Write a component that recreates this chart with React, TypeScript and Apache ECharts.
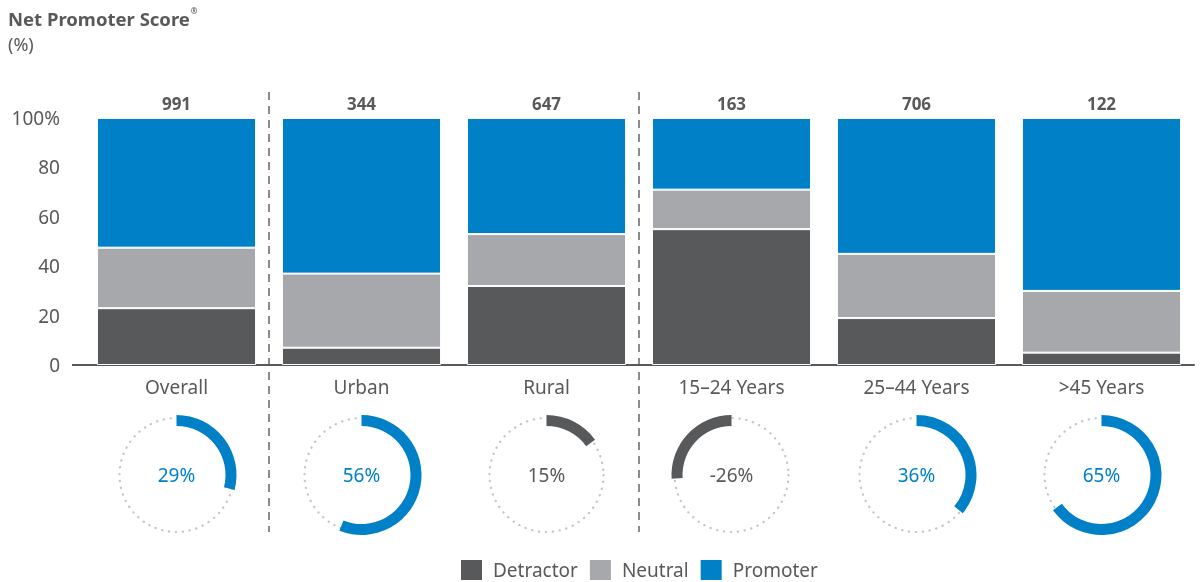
import React, { useEffect, useRef } from 'react';
import * as echarts from 'echarts';

const categories = ['Overall', 'Urban', 'Rural', '15–24 Years', '25–44 Years', '>45 Years'];
const detractor = [23, 7, 32, 55, 19, 5];
const neutral = [24.5, 30, 21, 16, 26, 25];
const promoter = [52.5, 63, 47, 29, 55, 70];
const totals = [991, 344, 647, 163, 706, 122];
const nps = [29, 56, 15, -26, 36, 65];
const separatorAfter = [0, 2];

const C_DET = '#58595b';
const C_NEU = '#a7a8ab';
const C_PRO = '#0080c6';
const TXT = '#58595b';
const FONT = '"Noto Sans", sans-serif';

const W = 1200;
const H = 582;
const GRID_LEFT = 84;
const GRID_RIGHT = 6;
const GRID_TOP = 118;
const GRID_BOTTOM = 217;
const RING_Y = 475;

export default function App() {
  const ref = useRef<HTMLDivElement>(null);
  useEffect(() => {
    if (!ref.current) return;
    const chart = echarts.init(ref.current, undefined, { renderer: 'svg' });
    const gridW = W - GRID_LEFT - GRID_RIGHT;
    const band = gridW / categories.length;
    const cx = (i: number) => GRID_LEFT + (i + 0.5) * band;
    const n = categories.length;

    const hiddenAxis = {
      axisLine: { show: false },
      axisTick: { show: false },
      axisLabel: { show: false },
      splitLine: { show: false },
    };

    // ring polars (0..n-1) and dotted-track polars (n..2n-1)
    const polars: any[] = [];
    const angleAxes: any[] = [];
    const radiusAxes: any[] = [];
    categories.forEach((_, i) => {
      polars.push({ center: [cx(i), RING_Y], radius: [49, 60] });
      angleAxes.push({
        polarIndex: i,
        type: 'value',
        min: 0,
        max: 100,
        startAngle: 90,
        clockwise: nps[i] >= 0,
        ...hiddenAxis,
      });
      radiusAxes.push({ polarIndex: i, type: 'category', data: [''], ...hiddenAxis });
    });
    categories.forEach((_, i) => {
      polars.push({ center: [cx(i), RING_Y], radius: [0, 57] });
      angleAxes.push({
        polarIndex: n + i,
        type: 'value',
        min: 0,
        max: 100,
        startAngle: 90,
        z: 0,
        ...hiddenAxis,
        axisLine: { show: true, lineStyle: { color: '#c4c5c7', width: 2.2, type: [0.3, 6.6], cap: 'round' } },
      });
      radiusAxes.push({ polarIndex: n + i, type: 'value', min: 0, max: 1, ...hiddenAxis });
    });

    const ringSeries = categories.map((_, i) => ({
      type: 'bar',
      coordinateSystem: 'polar',
      polarIndex: i,
      barWidth: '100%',
      z: 5,
      data: [Math.abs(nps[i])],
      itemStyle: { color: nps[i] >= 20 ? C_PRO : C_DET },
      silent: true,
    }));

    const graphics: any[] = [];
    separatorAfter.forEach((k) => {
      const x = GRID_LEFT + (k + 1) * band;
      graphics.push({
        type: 'line',
        shape: { x1: x, y1: 92, x2: x, y2: 532 },
        style: { stroke: '#8a8b8d', lineWidth: 2, lineDash: [8, 6] },
      });
    });
    graphics.push({
      type: 'line',
      shape: { x1: 72, y1: H - GRID_BOTTOM, x2: GRID_LEFT, y2: H - GRID_BOTTOM },
      style: { stroke: TXT, lineWidth: 2 },
    });
    categories.forEach((_, i) => {
      graphics.push({
        type: 'text',
        x: cx(i),
        y: RING_Y,
        style: {
          text: nps[i] + '%',
          fill: nps[i] >= 20 ? C_PRO : TXT,
          font: `19px ${FONT}`,
          align: 'center',
          verticalAlign: 'middle',
        },
      });
    });

    const barCommon = {
      type: 'bar',
      stack: 'total',
      barWidth: '86%',
      xAxisIndex: 0,
      yAxisIndex: 0,
    };

    chart.setOption({
      animation: false,
      textStyle: { fontFamily: FONT },
      title: {
        left: 3,
        top: 1,
        text: '{b|Net Promoter Score}{s|®}\n{n|(%)}',
        textStyle: {
          rich: {
            b: { fontSize: 18.5, fontWeight: 'bold', color: TXT, fontFamily: FONT, lineHeight: 25 },
            s: { fontSize: 8, color: TXT, fontFamily: FONT, verticalAlign: 'top', lineHeight: 25, padding: [0, 0, 8, 1] },
            n: { fontSize: 18, fontWeight: 'normal', color: TXT, fontFamily: FONT, lineHeight: 25 },
          },
        },
      },
      legend: {
        left: 454,
        top: 553,
        icon: 'rect',
        itemWidth: 23,
        itemHeight: 22,
        itemGap: 10,
        textStyle: { fontSize: 19, color: TXT, fontFamily: FONT, padding: [0, 0, 0, 5] },
        data: ['Detractor', 'Neutral', 'Promoter'],
      },
      grid: { left: GRID_LEFT, right: GRID_RIGHT, top: GRID_TOP, bottom: GRID_BOTTOM },
      xAxis: {
        type: 'category',
        data: categories,
        axisLine: { lineStyle: { color: TXT, width: 2 } },
        axisTick: { show: false },
        axisLabel: { color: TXT, fontSize: 19, margin: 12, fontFamily: FONT },
      },
      yAxis: {
        type: 'value',
        min: 0,
        max: 100,
        interval: 20,
        axisLine: { show: false },
        axisTick: { show: false },
        splitLine: { show: false },
        axisLabel: {
          color: TXT,
          fontSize: 19,
          margin: 24,
          fontFamily: FONT,
          formatter: (v: number) => (v === 100 ? '100%' : String(v)),
        },
      },
      polar: polars,
      angleAxis: angleAxes,
      radiusAxis: radiusAxes,
      series: [
        { ...barCommon, name: 'Detractor', data: detractor, itemStyle: { color: C_DET, borderColor: '#fff', borderWidth: 1 } },
        { ...barCommon, name: 'Neutral', data: neutral, itemStyle: { color: C_NEU, borderColor: '#fff', borderWidth: 1 } },
        {
          ...barCommon,
          name: 'Promoter',
          data: promoter,
          itemStyle: { color: C_PRO, borderColor: '#fff', borderWidth: 1 },
          label: {
            show: true,
            position: 'top',
            distance: 6,
            color: TXT,
            fontSize: 17,
            fontWeight: 'bold',
            fontFamily: FONT,
            formatter: (p: any) => String(totals[p.dataIndex]),
          },
        },
        ...ringSeries,
      ],
      graphic: graphics,
    });
    return () => chart.dispose();
  }, []);
  return <div ref={ref} style={{ position: 'fixed', left: 0, top: 0, width: W, height: H }} />;
}
